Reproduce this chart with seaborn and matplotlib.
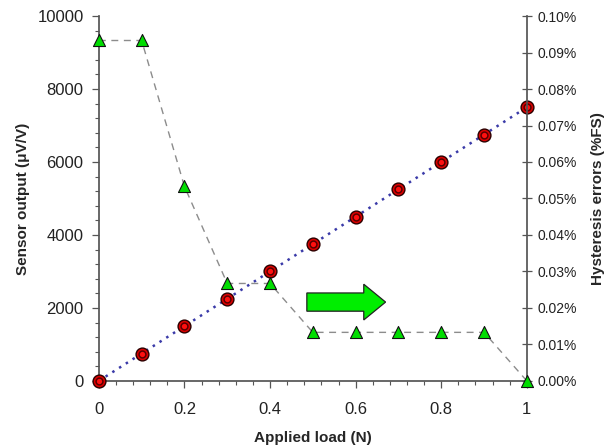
import matplotlib
matplotlib.use("Agg")
import matplotlib.pyplot as plt
import numpy as np
import seaborn as sns
from matplotlib.patches import Polygon
from matplotlib.ticker import MultipleLocator, FuncFormatter

# data
load = [0.0, 0.1, 0.2, 0.3, 0.4, 0.5, 0.6, 0.7, 0.8, 0.9, 1.0]
sensor_output = [0, 750, 1500, 2250, 3000, 3750, 4500, 5250, 6000, 6750, 7500]
hysteresis = [0.0933, 0.0933, 0.0533, 0.0267, 0.0267, 0.0133,
              0.0133, 0.0133, 0.0133, 0.0133, 0.0]

sns.set_theme(style="ticks")
plt.rcParams['font.family'] = ['Liberation Sans', 'DejaVu Sans']
plt.rcParams['axes.edgecolor'] = '#555555'
plt.rcParams['xtick.color'] = '#555555'
plt.rcParams['ytick.color'] = '#555555'
plt.rcParams['xtick.labelcolor'] = '#222222'
plt.rcParams['ytick.labelcolor'] = '#222222'

fig = plt.figure(figsize=(6.14, 4.46), dpi=100)
ax = fig.add_axes([0.161, 0.146, 0.697, 0.818])
ax2 = ax.twinx()

# sensor output, left axis
sns.lineplot(x=load, y=sensor_output, ax=ax, color='#3a3aa8',
             linestyle=(0, (1, 2.2)), linewidth=1.8, zorder=2)
sns.scatterplot(x=load, y=sensor_output, ax=ax, s=85, color='#dd0000',
                edgecolor='#2a0000', linewidth=1.0, zorder=3, clip_on=False)
sns.scatterplot(x=load, y=sensor_output, ax=ax, s=24, color='#ff1010',
                edgecolor='#5a0000', linewidth=1.1, zorder=4, clip_on=False)

# hysteresis, right axis
sns.lineplot(x=load, y=hysteresis, ax=ax2, color='#8c8c8c',
             linestyle=(0, (5, 4)), linewidth=1.0, zorder=2)
sns.scatterplot(x=load, y=hysteresis, ax=ax2, marker='^', s=75,
                color='#00dd00', edgecolor='#111111', linewidth=0.8,
                zorder=3, clip_on=False)

ax.set_xlim(0, 1)
ax.set_ylim(0, 10000)
ax2.set_ylim(0, 0.1)

ax.xaxis.set_major_locator(MultipleLocator(0.2))
ax.xaxis.set_minor_locator(MultipleLocator(0.04))
ax.yaxis.set_major_locator(MultipleLocator(2000))
ax.yaxis.set_minor_locator(MultipleLocator(400))
ax.xaxis.set_major_formatter(FuncFormatter(lambda v, p: f"{v:g}"))
ax2.yaxis.set_major_locator(MultipleLocator(0.01))
ax2.yaxis.set_major_formatter(FuncFormatter(lambda v, p: f"{v:.2f}%"))

ax.tick_params(axis='both', which='major', length=5, width=0.9,
               labelsize=12)
ax.tick_params(axis='x', which='major', pad=10)
ax.tick_params(axis='y', which='major', pad=6)
ax.tick_params(axis='both', which='minor', length=3, width=0.8)
ax2.tick_params(axis='y', which='major', direction='inout', length=7,
                width=0.9, labelsize=10, pad=4)

for a in (ax, ax2):
    a.spines['top'].set_visible(False)
ax.spines['right'].set_visible(False)
ax2.spines['left'].set_visible(False)
ax2.spines['bottom'].set_visible(False)

ax.set_xlabel('Applied load (N)', fontsize=11, fontweight='bold', labelpad=10)
ax.set_ylabel('Sensor output (μV/V)', fontsize=11, fontweight='bold',
              labelpad=5)
ax2.set_ylabel('Hysteresis errors (%FS)', fontsize=11, fontweight='bold',
               labelpad=10)

# block arrow decoration
x0, xh, xt = 0.486, 0.619, 0.670
yc, hb, hh = 0.216, 0.025, 0.049
arrow = Polygon([(x0, yc - hb), (xh, yc - hb), (xh, yc - hh), (xt, yc),
                 (xh, yc + hh), (xh, yc + hb), (x0, yc + hb)],
                closed=True, transform=ax.transAxes, facecolor='#00ee00',
                edgecolor='#222222', linewidth=0.9, zorder=5)
ax2.add_patch(arrow)

fig.savefig('out.png', dpi=100)
